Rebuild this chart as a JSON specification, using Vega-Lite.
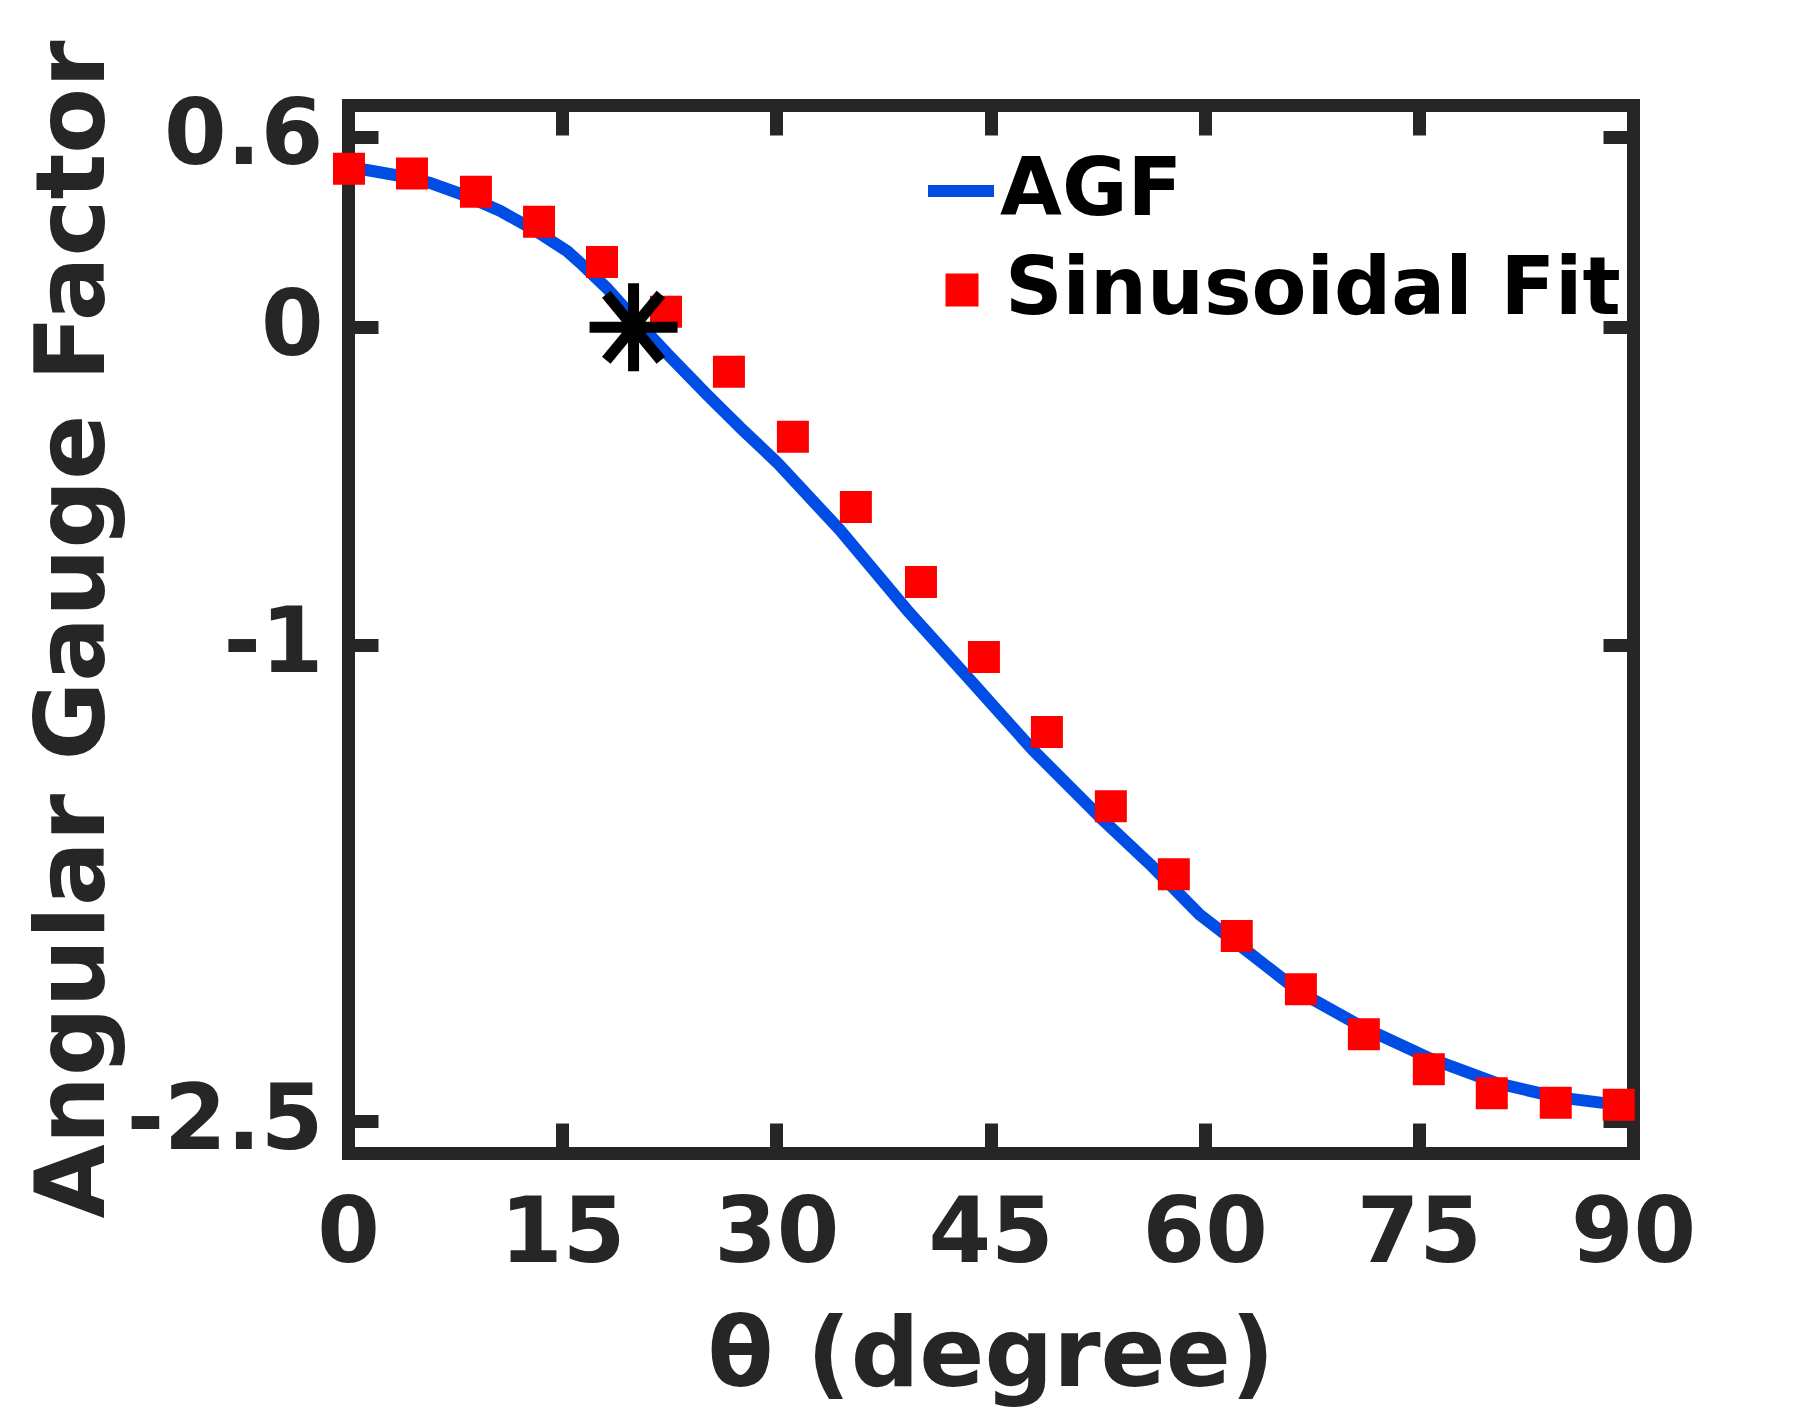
{
  "$schema": "https://vega.github.io/schema/vega-lite/v6.json",
  "width": 1285,
  "height": 1048,
  "autosize": "none",
  "padding": {"left": 348, "top": 105, "right": 172, "bottom": 254},
  "background": "white",
  "config": {
    "view": {"stroke": null},
    "font": "DejaVu Sans",
    "axis": {
      "grid": false,
      "domainColor": "#262626",
      "domainWidth": 13,
      "domainCap": "square",
      "tickColor": "#262626",
      "tickWidth": 13,
      "tickSize": -30,
      "labelFont": "DejaVu Sans",
      "labelFontWeight": "bold",
      "labelFontSize": 90,
      "labelColor": "#262626",
      "labelLimit": 0,
      "titleFont": "DejaVu Sans",
      "titleFontWeight": "bold",
      "titleFontSize": 96,
      "titleColor": "#262626",
      "titleLimit": 0
    },
    "legend": {
      "labelFont": "DejaVu Sans",
      "labelFontWeight": "bold",
      "labelFontSize": 80,
      "labelColor": "#000000",
      "labelLimit": 0,
      "padding": 0,
      "title": null
    }
  },
  "resolve": {"axis": {"x": "independent", "y": "independent"}},
  "layer": [
    {
      "data": {"values": [
        {"theta": 0, "agf": 0.5},
        {"theta": 1.2, "agf": 0.496},
        {"theta": 3.5, "agf": 0.478},
        {"theta": 5.74, "agf": 0.455},
        {"theta": 8.2, "agf": 0.415},
        {"theta": 10.64, "agf": 0.367},
        {"theta": 13.0, "agf": 0.308},
        {"theta": 15.34, "agf": 0.24},
        {"theta": 16.46, "agf": 0.195},
        {"theta": 18.2, "agf": 0.12},
        {"theta": 20.0, "agf": 0.03},
        {"theta": 22.5, "agf": -0.09},
        {"theta": 25.14, "agf": -0.212},
        {"theta": 27.45, "agf": -0.315},
        {"theta": 30.04, "agf": -0.425},
        {"theta": 34.45, "agf": -0.638},
        {"theta": 39.15, "agf": -0.89},
        {"theta": 43.56, "agf": -1.11},
        {"theta": 47.97, "agf": -1.331},
        {"theta": 52.66, "agf": -1.542},
        {"theta": 56.16, "agf": -1.69},
        {"theta": 59.66, "agf": -1.85},
        {"theta": 63.17, "agf": -1.971},
        {"theta": 66.67, "agf": -2.094},
        {"theta": 71.08, "agf": -2.204},
        {"theta": 75.77, "agf": -2.302},
        {"theta": 80.46, "agf": -2.38},
        {"theta": 84.66, "agf": -2.424},
        {"theta": 89.29, "agf": -2.45},
        {"theta": 90, "agf": -2.452}
      ]},
      "mark": {"type": "line", "strokeWidth": 12, "strokeCap": "butt", "strokeJoin": "round"},
      "encoding": {
        "x": {"field": "theta", "type": "quantitative",
          "scale": {"domain": [0, 90], "nice": false, "zero": false},
          "axis": {"orient": "bottom", "values": [0, 15, 30, 45, 60, 75, 90], "title": "θ (degree)", "labelPadding": 67, "titlePadding": 30, "labelFlush": false}},
        "y": {"field": "agf", "type": "quantitative",
          "scale": {"domain": [-2.6, 0.7], "nice": false, "zero": false},
          "axis": {"orient": "left", "values": [0.6, 0, -1, -2.5], "labelExpr": "datum.value == 0.6 ? '0.6' : datum.value == 0 ? '0' : datum.value == -1 ? '-1' : '-2.5'", "title": "Angular Gauge Factor", "labelPadding": 55, "titlePadding": 25, "labelFlush": false}},
        "stroke": {"datum": "AGF", "type": "nominal",
          "scale": {"range": ["#004de6"]},
          "legend": {"orient": "none", "legendX": 573, "legendY": 46, "symbolType": "stroke", "symbolSize": 4356, "symbolStrokeWidth": 12, "labelOffset": -1}}
      }
    },
    {
      "data": {"values": [
        {"theta": 0.07, "fit": 0.499},
        {"theta": 4.48, "fit": 0.484},
        {"theta": 8.96, "fit": 0.427},
        {"theta": 13.38, "fit": 0.332},
        {"theta": 17.79, "fit": 0.206},
        {"theta": 22.27, "fit": 0.049},
        {"theta": 26.68, "fit": -0.14},
        {"theta": 31.16, "fit": -0.345},
        {"theta": 35.57, "fit": -0.566},
        {"theta": 40.13, "fit": -0.802},
        {"theta": 44.54, "fit": -1.038},
        {"theta": 48.95, "fit": -1.274},
        {"theta": 53.43, "fit": -1.508},
        {"theta": 57.84, "fit": -1.722},
        {"theta": 62.25, "fit": -1.917},
        {"theta": 66.74, "fit": -2.084},
        {"theta": 71.15, "fit": -2.226},
        {"theta": 75.7, "fit": -2.336},
        {"theta": 80.11, "fit": -2.412},
        {"theta": 84.59, "fit": -2.442},
        {"theta": 89.0, "fit": -2.448}
      ]},
      "mark": {"type": "point", "shape": "square", "filled": true, "size": 1024, "opacity": 1},
      "encoding": {
        "x": {"field": "theta", "type": "quantitative", "axis": {"orient": "top", "values": [0, 15, 30, 45, 60, 75, 90], "labels": false, "title": null}},
        "y": {"field": "fit", "type": "quantitative", "axis": {"orient": "right", "values": [0.6, 0, -1, -2.5], "labels": false, "title": null}},
        "fill": {"datum": "Sinusoidal Fit", "type": "nominal",
          "scale": {"range": ["#ff0000"]},
          "legend": {"orient": "none", "legendX": 574, "legendY": 145, "symbolType": "square", "symbolSize": 1089, "symbolStrokeWidth": 0, "symbolOpacity": 1, "labelOffset": 3}}
      }
    },
    {
      "data": {"values": [{"theta": 20, "value": 0}]},
      "mark": {"type": "point", "shape": "M-1,0L1,0M0,-1L0,1M-0.62,-0.75L0.62,0.75M-0.62,0.75L0.62,-0.75", "filled": false, "stroke": "#000000", "strokeWidth": 11, "size": 7744, "opacity": 1},
      "encoding": {
        "x": {"field": "theta", "type": "quantitative", "axis": null},
        "y": {"field": "value", "type": "quantitative", "axis": null}
      }
    }
  ]
}
